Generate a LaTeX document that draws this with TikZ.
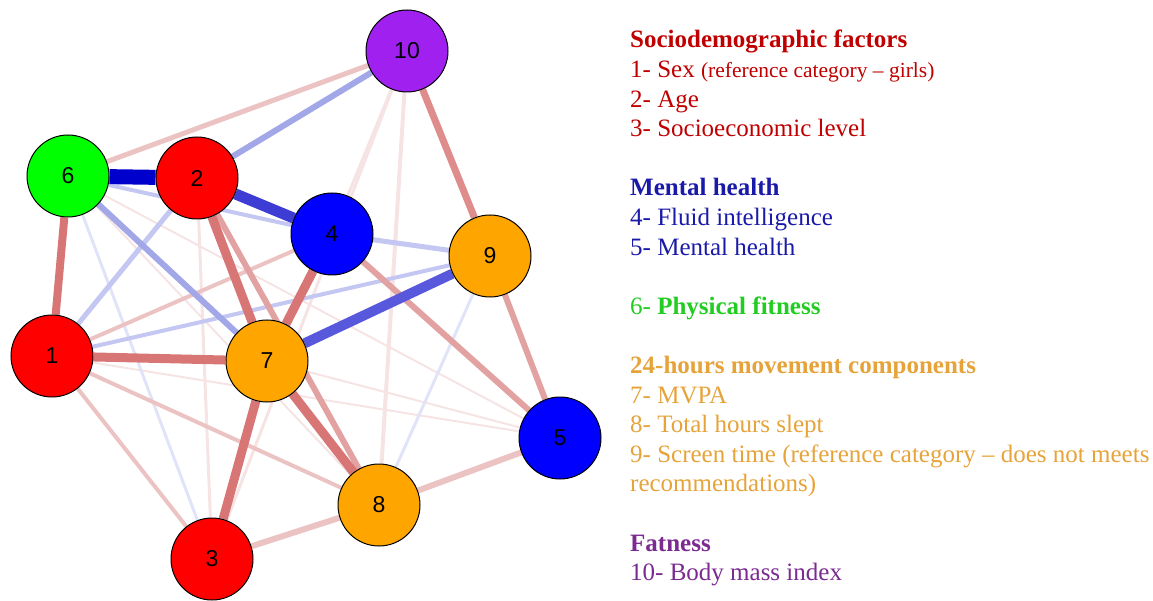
\documentclass[tikz,border=0pt]{standalone}
\usepackage{fontspec}
\setmainfont{Liberation Serif}
\newfontfamily\numfont{Liberation Sans}
\usetikzlibrary{backgrounds}
% node fills
\definecolor{nred}{HTML}{FF0000}
\definecolor{ngreen}{HTML}{00FF00}
\definecolor{nblue}{HTML}{0000FF}
\definecolor{norange}{HTML}{FFA500}
\definecolor{npurple}{HTML}{A020F0}
% edge weights, positive (red) and negative (blue)
\definecolor{posA}{HTML}{D87676}
\definecolor{posAB}{HTML}{DE8C8C}
\definecolor{posB}{HTML}{E2A2A2}
\definecolor{posC}{HTML}{ECC3C3}
\definecolor{posD}{HTML}{F6E4E4}
\definecolor{negA}{HTML}{0000CC}
\definecolor{negB}{HTML}{3D3DD6}
\definecolor{negC}{HTML}{5858DC}
\definecolor{negD}{HTML}{A2A7E8}
\definecolor{negE}{HTML}{C3C7F1}
\definecolor{negF}{HTML}{E1E3F8}
% legend text
\definecolor{socio}{HTML}{C00000}
\definecolor{mental}{HTML}{1A1AA8}
\definecolor{fit}{HTML}{22CC22}
\definecolor{move}{HTML}{E6A33A}
\definecolor{fat}{HTML}{7A2A90}

\begin{document}
\begin{tikzpicture}[x=1pt,y=-1pt,
  var/.style={circle,draw=black,line width=1pt,fill=#1,minimum size=82pt,inner sep=0pt,
    font=\numfont\fontsize{23}{23}\selectfont},
  key/.style={anchor=north west,align=left,inner sep=0pt,font=\fontsize{25}{29.6}\selectfont}
]
\useasboundingbox (0,0) rectangle (1153,601);
% variables
\node[var=nred] (v1) at (52,356) {1};
\node[var=nred] (v2) at (197,178) {2};
\node[var=nred] (v3) at (212,559) {3};
\node[var=nblue] (v4) at (332,234) {4};
\node[var=nblue] (v5) at (560,438) {5};
\node[var=ngreen] (v6) at (68,176) {6};
\node[var=norange] (v7) at (267,361) {7};
\node[var=norange] (v8) at (379,505) {8};
\node[var=norange] (v9) at (490,256) {9};
\node[var=npurple] (v10) at (407,51) {10};
% partial correlations, weakest first
\begin{scope}[on background layer]
\foreach \source/\target/\w/\col in {1/5/2/posD,6/5/2/posD,6/8/2/posD,7/5/2/posD,
    2/3/3/posD,10/4/3/posD,10/3/3/posD,10/8/4/posD,6/3/3/negF,9/8/3/negF,
    1/3/4/posC,1/4/4/posC,1/8/4/posC,6/10/5/posC,5/8/6/posC,3/8/6/posC,
    6/4/4/negE,1/9/4/negE,4/9/5/negE,1/2/5/negE,2/10/6/negD,6/7/6/negD,
    2/8/6/posB,4/5/6/posB,9/5/6/posB,10/9/7/posAB,
    6/1/8/posA,1/7/9/posA,7/8/9/posA,2/7/9/posA,4/7/9/posA,7/3/9/posA,
    7/9/10/negC,2/4/11/negB,6/2/15/negA}
  \draw[line width=\w pt,draw=\col] (v\source) -- (v\target);
\end{scope}
% legend
\node[key] (legend) at (630,30) {%
  \textcolor{socio}{\textbf{Sociodemographic factors}}\\
  \textcolor{socio}{1- Sex {\fontsize{21.5}{29.6}\selectfont(reference category -- girls)}}\\
  \textcolor{socio}{2- Age}\\
  \textcolor{socio}{3- Socioeconomic level}\\[29.6pt]
  \textcolor{mental}{\textbf{Mental health}}\\
  \textcolor{mental}{4- Fluid intelligence}\\
  \textcolor{mental}{5- Mental health}\\[29.6pt]
  \textcolor{fit}{6- \textbf{Physical fitness}}\\[29.6pt]
  \textcolor{move}{\textbf{24-hours movement components}}\\
  \textcolor{move}{7- MVPA}\\
  \textcolor{move}{8- Total hours slept}\\
  \textcolor{move}{9- Screen time (reference category -- does not meets}\\
  \textcolor{move}{recommendations)}\\[29.6pt]
  \textcolor{fat}{\textbf{Fatness}}\\
  \textcolor{fat}{10- Body mass index}};
\end{tikzpicture}
\end{document}
